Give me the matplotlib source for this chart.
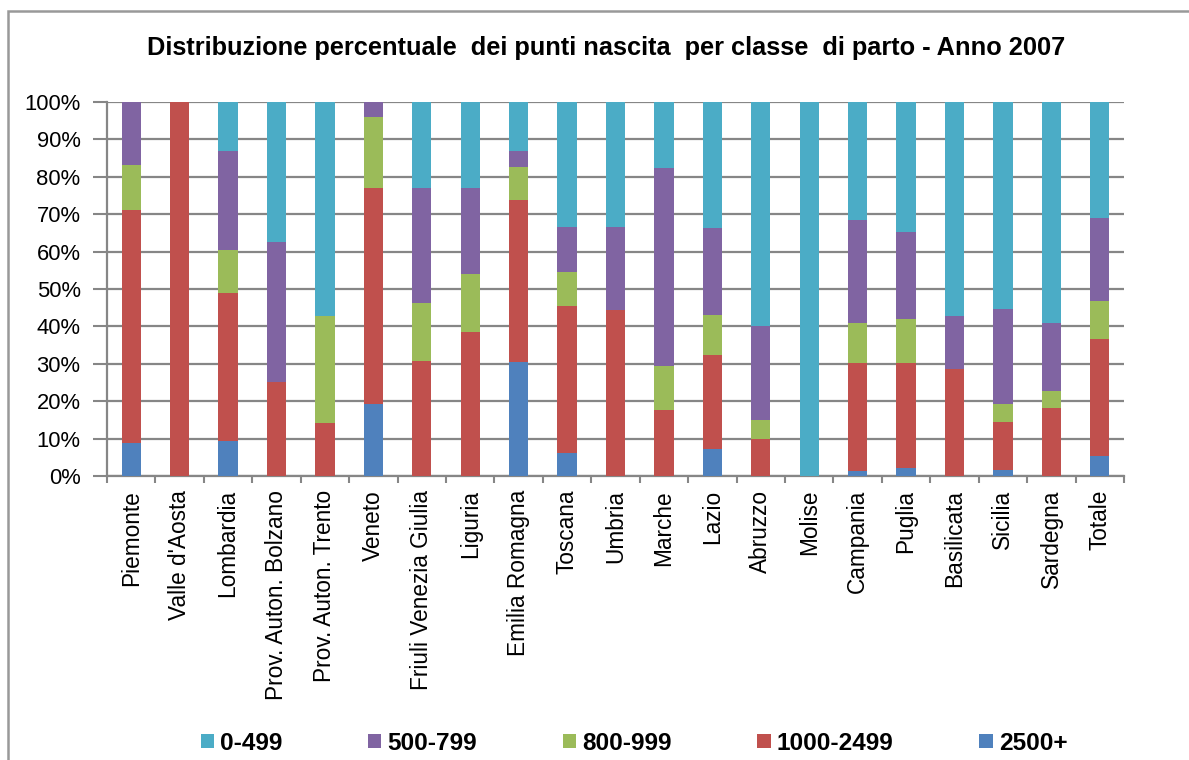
import matplotlib
matplotlib.use("Agg")
import matplotlib.pyplot as plt
from matplotlib.patches import Rectangle
import numpy as np

plt.rcParams['font.family'] = ['Liberation Sans', 'DejaVu Sans']

categories = ["Piemonte", "Valle d'Aosta", "Lombardia", "Prov. Auton. Bolzano",
              "Prov. Auton. Trento", "Veneto", "Friuli Venezia Giulia", "Liguria",
              "Emilia Romagna", "Toscana", "Umbria", "Marche", "Lazio", "Abruzzo",
              "Molise", "Campania", "Puglia", "Basilicata", "Sicilia", "Sardegna",
              "Totale"]

p2500 = [8.7, 0, 9.3, 0, 0, 19.2, 0, 0, 30.4, 6.1, 0, 0, 7.1, 0, 0, 1.3, 2.2, 0, 1.7, 0, 5.4]
p1000 = [62.3, 100, 39.5, 25.0, 14.3, 57.7, 30.8, 38.5, 43.5, 39.4, 44.4, 17.6, 25.3, 10.0, 0, 29.0, 28.1, 28.6, 12.8, 18.2, 31.3]
p800 = [12.2, 0, 11.6, 0, 28.6, 19.2, 15.4, 15.4, 8.7, 9.1, 0, 11.8, 10.6, 5.0, 0, 10.6, 11.7, 0, 4.7, 4.5, 10.1]
p500 = [16.8, 0, 26.6, 37.5, 0, 3.9, 30.8, 23.1, 4.4, 12.1, 22.2, 52.9, 23.3, 25.0, 0, 27.5, 23.3, 14.3, 25.4, 18.2, 22.1]
p0 = [0, 0, 13.0, 37.5, 57.1, 0, 23.0, 23.0, 13.0, 33.3, 33.4, 17.7, 33.7, 60.0, 100, 31.6, 34.7, 57.1, 55.4, 59.1, 31.1]

series_names = ["0-499", "500-799", "800-999", "1000-2499", "2500+"]
series_vals = [p0, p500, p800, p1000, p2500]
series_colors = ["#4BACC6", "#8064A2", "#9BBB59", "#C0504D", "#4F81BD"]

title = "Distribuzione percentuale  dei punti nascita  per classe  di parto - Anno 2007"

W, H = 1189, 760
fig = plt.figure(figsize=(W / 100, H / 100), dpi=100)
ax = fig.add_axes([107 / W, 1 - 476 / H, (1124 - 107) / W, (476 - 102) / H])

x = np.arange(len(categories))
grid_c = "#868686"

# stacked bars, bottom first
bottom = np.zeros(len(categories))
handles = {}
for name, vals, col in reversed(list(zip(series_names, series_vals, series_colors))):
    v = np.array(vals, dtype=float)
    b = ax.bar(x, v, 0.40, bottom=bottom, color=col, edgecolor='none', zorder=3, label=name)
    handles[name] = b
    bottom += v

ax.set_xlim(-0.5, len(categories) - 0.5)
ax.set_ylim(0, 100)
ax.set_yticks(np.arange(0, 101, 10))
ax.set_yticklabels([f"{v}%" for v in range(0, 101, 10)], fontsize=15.8)
ax.yaxis.grid(True, color=grid_c, linewidth=1.6, zorder=0)
ax.set_axisbelow(True)

ax.set_xticks(np.arange(-0.5, len(categories), 1.0))
ax.set_xticklabels([])
ax.set_xticks(x, minor=True)
ax.set_xticklabels(categories, minor=True, rotation=90, fontsize=16.3, va='top', ha='center')
ax.tick_params(axis='x', which='major', length=5, width=1.5, color=grid_c, direction='out')
ax.tick_params(axis='x', which='minor', length=0, pad=10)
ax.tick_params(axis='y', length=10, width=1.5, color=grid_c, direction='out', pad=9)

for s in ['top', 'right']:
    ax.spines[s].set_visible(False)
for s in ['left', 'bottom']:
    ax.spines[s].set_color(grid_c)
    ax.spines[s].set_linewidth(1.6)

fig.text(606 / W, 1 - 48 / H, title, ha='center', va='center', fontsize=18.3, fontweight='bold')

leg = fig.legend([handles[n] for n in series_names], series_names, loc='center',
                 bbox_to_anchor=(634 / W, 1 - 743 / H), ncol=5, frameon=False,
                 prop={'weight': 'bold', 'size': 17.6}, handlelength=0.55, handleheight=0.48,
                 handletextpad=0.25, columnspacing=3.5)

fig.add_artist(Rectangle((8 / W, -0.1), 1.2, (1 - 11 / H) + 0.1, transform=fig.transFigure,
                         fill=False, edgecolor="#999999", linewidth=1.8))

fig.savefig("out.png", dpi=100)
